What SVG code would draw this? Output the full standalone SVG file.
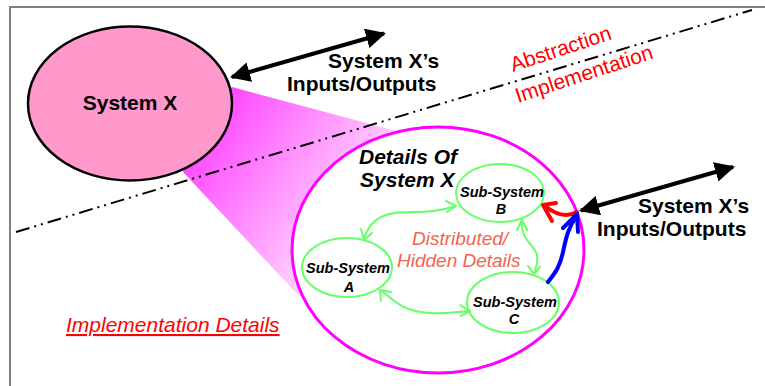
<svg xmlns="http://www.w3.org/2000/svg" width="765" height="386" viewBox="0 0 765 386">
<defs>
<style>
.frame{fill:none;stroke:#808080;stroke-width:2}
.dd{fill:none;stroke:#000;stroke-width:2;stroke-dasharray:14 5 2 5 2 5}
.bold{font-family:"Liberation Sans",Arial,sans-serif;font-weight:bold;fill:#000}
.sub{font-family:"Liberation Sans",Arial,sans-serif;font-weight:bold;font-style:italic;font-size:14.5px;fill:#000;text-anchor:middle}
.red{font-family:"Liberation Sans",Arial,sans-serif;font-size:21px;fill:#FF0000}
.green{fill:none;stroke:#66FF66;stroke-width:2}
.ghead{fill:none;stroke:#66FF66;stroke-width:2;stroke-linecap:round;stroke-linejoin:round}
.io{fill:none;stroke:#000;stroke-width:4}
</style>
<linearGradient id="fun" gradientUnits="userSpaceOnUse" x1="215" y1="105" x2="380" y2="215">
<stop offset="0" stop-color="#FF44FF"/>
<stop offset="1" stop-color="#FFE8FF"/>
</linearGradient>
<marker id="ah" viewBox="0 0 10 10" refX="9" refY="5" markerWidth="5" markerHeight="5" orient="auto-start-reverse" markerUnits="strokeWidth">
<path d="M0,0 L10,5 L0,10 z" fill="#000"/>
</marker>
</defs>
<rect width="765" height="386" fill="#fff"/>
<path class="frame" d="M10,386 V7 H765"/>

<g id="funnel">
<polygon points="232,87 430,140 320,302 298,295 183,172 190,150" fill="url(#fun)"/>
</g>

<g id="divider">
<line class="dd" x1="16" y1="232" x2="752" y2="10"/>
</g>

<g id="system-x">
<ellipse cx="130" cy="103.5" rx="102" ry="77" fill="#FF99CC" stroke="#000" stroke-width="2.5"/>
<text class="bold" x="130" y="110" font-size="21" text-anchor="middle">System X</text>
</g>

<g id="details">
<ellipse cx="438" cy="250" rx="146" ry="123" fill="#fff" stroke="#FF00FF" stroke-width="3"/>
<text class="bold" x="359" y="164" font-size="21" font-style="italic">Details Of</text>
<text class="bold" x="360" y="187" font-size="21" font-style="italic">System X</text>
</g>

<g id="labels">
<text class="red" transform="translate(513,72) rotate(-18.3)">Abstraction</text>
<text class="red" transform="translate(518,103) rotate(-18.2)">Implementation</text>
<text class="red" x="66" y="332" font-style="italic" text-decoration="underline">Implementation Details</text>
<text x="412" y="245" font-family="Liberation Sans, Arial, sans-serif" font-size="19" font-style="italic" fill="#F26450">Distributed/</text>
<text x="397" y="267" font-family="Liberation Sans, Arial, sans-serif" font-size="19" font-style="italic" fill="#F26450">Hidden Details</text>
<text class="bold" x="328" y="68" font-size="21">System X’s</text>
<text class="bold" x="287" y="91" font-size="21">Inputs/Outputs</text>
<text class="bold" x="638" y="213" font-size="21">System X’s</text>
<text class="bold" x="597" y="236" font-size="21">Inputs/Outputs</text>
</g>

<g id="sub-b">
<ellipse class="green" cx="500" cy="193" rx="44" ry="29"/>
<text class="sub" x="502" y="197">Sub-System</text>
<text class="sub" x="501" y="214">B</text>
</g>
<g id="sub-a">
<ellipse class="green" cx="347" cy="267.5" rx="45" ry="29.5"/>
<text class="sub" x="348" y="273">Sub-System</text>
<text class="sub" x="349" y="292">A</text>
</g>
<g id="sub-c">
<ellipse class="green" cx="513" cy="302.5" rx="46" ry="30.5"/>
<text class="sub" x="515" y="307">Sub-System</text>
<text class="sub" x="514" y="324">C</text>
</g>

<g id="connectors">
<line class="io" x1="232" y1="77" x2="384" y2="33.5" marker-start="url(#ah)" marker-end="url(#ah)"/>
<line class="io" x1="581" y1="210.5" x2="733" y2="167" marker-start="url(#ah)" marker-end="url(#ah)"/>

<path class="green" d="M364,239 C368,225 378,215 395,213 C415,211 432,214 456,206"/>
<path class="ghead" d="M361,229 L364,240 L372,233 M446,201 L456,206 L447,212"/>
<path class="green" d="M381,290 C395,302 405,312 430,313 C445,314 455,312 469,311"/>
<path class="ghead" d="M381,301 L380,290 L391,292 M460,305 L470,311 L461,316"/>
<path class="green" d="M522,221 C520,240 535,245 537,255 C538,262 536,268 534,273"/>
<path class="ghead" d="M517,230 L522,220 L527,230 M528,266 L534,274 L540,267"/>

<path d="M577,212 C570,216 560,218 545,206" fill="none" stroke="#FF0000" stroke-width="4" stroke-linecap="round"/>
<path d="M556,203 L543,205 L552,221" fill="none" stroke="#FF0000" stroke-width="4" stroke-linecap="round" stroke-linejoin="round"/>
<path d="M548,282 C556,272 560,266 563,252 C566,238 568,228 577,215" fill="none" stroke="#0000FF" stroke-width="4" stroke-linecap="round"/>
<path d="M563,228 L577,214 L578,232" fill="none" stroke="#0000FF" stroke-width="4" stroke-linecap="round" stroke-linejoin="round"/>
</g>
</svg>
